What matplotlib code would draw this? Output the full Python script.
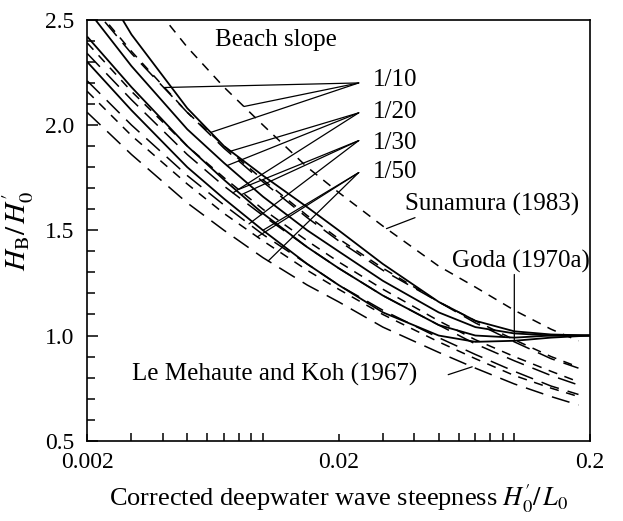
import numpy as np
import matplotlib
matplotlib.use('Agg')
import matplotlib.pyplot as plt
from matplotlib.ticker import FixedLocator, NullFormatter

plt.rcParams['font.family'] = ['Liberation Serif', 'DejaVu Serif']
plt.rcParams['mathtext.fontset'] = 'stix'

# --- data ---
slopes = ['1/10', '1/20', '1/30', '1/50']

# Goda (1970a), solid
goda_s = [0.002, 0.003, 0.005, 0.007, 0.01, 0.015, 0.02, 0.03, 0.05, 0.07, 0.1, 0.14, 0.2]
goda_10 = [2.78, 2.43, 2.08, 1.90, 1.76, 1.61, 1.50, 1.34, 1.16, 1.07, 1.02, 1.005, 1.0]
goda_20 = [2.55, 2.28, 1.98, 1.82, 1.66, 1.50, 1.40, 1.26, 1.11, 1.04, 1.01, 1.0, 1.0]
goda_30 = [2.42, 2.18, 1.90, 1.74, 1.58, 1.42, 1.32, 1.19, 1.05, 1.00, 0.99, 1.0, 1.0]
goda_50 = [2.30, 2.07, 1.80, 1.65, 1.50, 1.34, 1.24, 1.11, 1.00, 0.97, 0.975, 0.99, 1.0]

# Sunamura (1983), short dashes
suna_s = [0.002, 0.003, 0.005, 0.007, 0.01, 0.015, 0.02, 0.03, 0.05, 0.07, 0.1, 0.14, 0.18]
suna_10 = [2.98, 2.70, 2.37, 2.18, 2.00, 1.80, 1.68, 1.52, 1.33, 1.23, 1.12, 1.03, 0.975]
suna_20 = [2.60, 2.35, 2.06, 1.90, 1.74, 1.57, 1.46, 1.32, 1.16, 1.07, 0.98, 0.90, 0.85]
suna_30 = [2.39, 2.16, 1.90, 1.75, 1.60, 1.45, 1.35, 1.22, 1.07, 0.98, 0.90, 0.83, 0.78]
suna_50 = [2.16, 1.95, 1.72, 1.58, 1.45, 1.31, 1.22, 1.10, 0.97, 0.89, 0.81, 0.75, 0.71]

# Le Mehaute and Koh (1967), long dashes
lmk_s = [0.002, 0.003, 0.005, 0.007, 0.01, 0.015, 0.02, 0.03, 0.05, 0.07, 0.1, 0.14, 0.18]
lmk_10 = [2.59, 2.34, 2.06, 1.89, 1.73, 1.56, 1.45, 1.31, 1.16, 1.06, 0.97, 0.89, 0.845]
lmk_20 = [2.34, 2.12, 1.86, 1.71, 1.57, 1.42, 1.32, 1.19, 1.05, 0.96, 0.88, 0.81, 0.765]
lmk_30 = [2.21, 2.00, 1.76, 1.62, 1.48, 1.34, 1.24, 1.12, 0.99, 0.91, 0.83, 0.76, 0.72]
lmk_50 = [2.06, 1.86, 1.63, 1.50, 1.37, 1.24, 1.16, 1.04, 0.92, 0.845, 0.77, 0.71, 0.67]

goda = [goda_10, goda_20, goda_30, goda_50]
suna = [suna_10, suna_20, suna_30, suna_50]
lmk = [lmk_10, lmk_20, lmk_30, lmk_50]

# where the beach-slope leaders touch each family (steepness)
lead_goda = [0.0062, 0.0072, 0.0082, 0.0100]
lead_suna = [0.0084, 0.0074, 0.0080, 0.0095]
lead_lmk = [0.00403, 0.0076, 0.0088, 0.0105]


def val_at(xs, ys, s):
    return np.interp(np.log10(s), np.log10(xs), ys)


fig = plt.figure(figsize=(6.23, 5.21), dpi=100)
ax = fig.add_axes([0.14, 0.154, 0.807, 0.808])

for i in range(4):
    ax.plot(goda_s, goda[i], color='black', lw=1.3, solid_capstyle='butt')
    ax.plot(suna_s, suna[i], color='black', lw=1.1, dashes=(6, 5))
    ax.plot(lmk_s, lmk[i], color='black', lw=1.1, dashes=(12, 6))

ax.set_xscale('log')
ax.set_xlim(0.002, 0.2)
ax.set_ylim(0.5, 2.5)

# ticks: all inward, only on left / bottom
ax.xaxis.set_major_locator(FixedLocator([0.002, 0.02, 0.2]))
ax.xaxis.set_minor_locator(FixedLocator([k * 10.0 ** e for e in (-3, -2) for k in range(3, 10)] + [0.01, 0.1]))
ax.xaxis.set_minor_formatter(NullFormatter())
ax.set_xticklabels(['0.002', '0.02', '0.2'])
ax.set_yticks([0.5, 1.0, 1.5, 2.0, 2.5])
ax.set_yticklabels(['0.5', '1.0', '1.5', '2.0', '2.5'])
ax.set_yticks(np.arange(0.6, 2.5, 0.1), minor=True)
ax.tick_params(axis='both', which='both', direction='in', top=False, right=False,
               labelsize=17, width=1.1, color='black')
ax.tick_params(axis='y', which='major', length=8, pad=9)
ax.tick_params(axis='y', which='minor', length=6)
ax.tick_params(axis='x', which='major', length=5, pad=8)
ax.tick_params(axis='x', which='minor', length=6)
# longer marks at 0.01 and 0.1
for t in ax.xaxis.get_minor_ticks():
    if np.isclose(t.get_loc(), 0.01) or np.isclose(t.get_loc(), 0.1):
        t.tick1line.set_markersize(11)
for sp in ax.spines.values():
    sp.set_linewidth(1.2)

ax.set_ylabel("$H_{\\mathrm{B}}/\\,H_0'$", fontsize=21, labelpad=7)
ax.set_xlabel("Corrected deepwater wave steepness $H_0'/\\,L_0$", fontsize=19, labelpad=7)

# beach slope labels and fan leaders
ax.text(0.254, 0.952, 'Beach slope', transform=ax.transAxes, fontsize=18, va='center')
apex_y = [0.850, 0.779, 0.713, 0.637]
lab_y = [0.857, 0.781, 0.708, 0.639]
for i in range(4):
    ax.text(0.569, lab_y[i], slopes[i], transform=ax.transAxes, fontsize=18, va='center')
    targets = [(lead_goda[i], val_at(goda_s, goda[i], lead_goda[i])),
               (lead_suna[i], val_at(suna_s, suna[i], lead_suna[i])),
               (lead_lmk[i], val_at(lmk_s, lmk[i], lead_lmk[i]))]
    for s, v in targets:
        ax.annotate('', xy=(s, v), xycoords='data', xytext=(0.54, apex_y[i]),
                    textcoords='axes fraction',
                    arrowprops=dict(arrowstyle='-', lw=0.9, color='black', shrinkA=0, shrinkB=0))

# source labels
ax.text(0.632, 0.561, 'Sunamura (1983)', transform=ax.transAxes, fontsize=18, va='center')
ax.annotate('', xy=(0.031, val_at(suna_s, suna_10, 0.031)), xytext=(0.652, 0.530),
            textcoords='axes fraction',
            arrowprops=dict(arrowstyle='-', lw=0.9, color='black', shrinkA=0, shrinkB=0))
ax.text(0.726, 0.425, 'Goda (1970a)', transform=ax.transAxes, fontsize=18, va='center')
ax.annotate('', xy=(0.1, val_at(goda_s, goda_50, 0.1)), xytext=(0.1, 1.29),
            arrowprops=dict(arrowstyle='-', lw=0.9, color='black', shrinkA=0, shrinkB=0))
ax.text(0.089, 0.157, 'Le Mehaute and Koh (1967)', transform=ax.transAxes, fontsize=18, va='center')
ax.annotate('', xy=(0.068, val_at(lmk_s, lmk_50, 0.068)), xytext=(0.718, 0.157),
            textcoords='axes fraction',
            arrowprops=dict(arrowstyle='-', lw=0.9, color='black', shrinkA=0, shrinkB=0))

fig.savefig('out.png', dpi=100)
